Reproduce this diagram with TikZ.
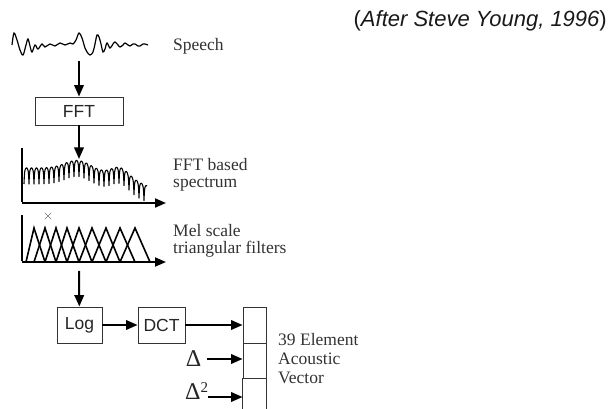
\documentclass[tikz,border=0pt]{standalone}
\usepackage{fontspec}
\setmainfont{Liberation Serif}
\newfontfamily\arialfont{Liberation Sans}
\usetikzlibrary{arrows.meta}
\tikzset{
  flowarrow/.style={line width=2pt, draw=black, -{Triangle[length=11.5pt,width=9.5pt]}},
  axisline/.style={line width=2.2pt, draw=black},
  axisarrow/.style={line width=2pt, draw=black, -{Triangle[length=11pt,width=9pt]}},
  procbox/.style={draw=black!80, line width=0.9pt, inner sep=0pt,
    font=\arialfont\fontsize{17.5}{20}\selectfont, text=black!85},
  cell/.style={draw=black!80, line width=0.9pt, inner sep=0pt, minimum width=23pt},
  lbl/.style={font=\fontsize{17.5}{17.5}\selectfont, text=black!80, align=left,
    anchor=base west, inner sep=0pt},
  deltalbl/.style={font=\fontsize{24}{24}\selectfont, text=black!85, inner sep=0pt},
  filt/.style={line width=1.6pt, draw=black, line join=miter},
  sig/.style={line width=1.2pt, draw=black},
}
\begin{document}
\begin{tikzpicture}[x=1pt,y=-1pt]
\useasboundingbox (0,0) rectangle (614,409);
\fill[white] (0,0) rectangle (614,409);

% title
\node[anchor=base east, inner sep=0pt, font=\arialfont\fontsize{22}{24}\selectfont, text=black!90]
  (title) at (607,27) {({\itshape After Steve Young, 1996})};

% speech waveform
\draw[sig] plot[smooth, tension=0.55] coordinates {
 (12,45) (14,33) (17,40) (20,50) (23,55) (26,45) (28,39) (30,46) (32,52) (35,45)
 (38,49) (42,44) (45,47) (50,44) (55,46) (60,43) (65,45) (70,43) (73,44) (76,40)
 (79,33) (82,38) (85,48) (87,52) (90,55) (93,52) (95,44) (97,35) (99,37) (101,44)
 (103,52) (105,49) (107,43) (110,48) (113,44) (115,42) (118,45) (120,47) (123,45)
 (125,43) (128,45) (130,46) (133,44) (135,44) (138,46) (140,46) (143,44) (145,44) (148,45)};
\node[lbl] (speech) at (173,51) {Speech};

% FFT
\coordinate (sp) at (79,61);
\node[procbox, minimum width=88pt, minimum height=28pt] (fft) at (79,111) {FFT};
\draw[flowarrow] (sp) -- (fft);
\coordinate (spectop) at (79,159);
\draw[flowarrow] (fft) -- (spectop);

% spectrum
\coordinate (sporig) at (22,203);
\coordinate (sptop) at (22,148);
\coordinate (spend) at (166,203);
\draw[axisline] (sptop) -- ([yshift=1.1pt]sporig);
\draw[axisarrow] (sporig) -- (spend);
\draw[sig, line width=1.1pt, line join=round] plot[domain=24:147, samples=493]
  (\x, {168 - 9*exp(-((\x-78)/18)^2) - 9*exp(-((\x-120)/12)^2) + 18*((\x-24)/123)^3
        + 5*(1-abs(sin(36*(\x-24)))) + 11*(1-abs(sin(36*(\x-24))))^4});
\node[lbl] (speclbl) at (173,188) {FFT based\\spectrum};

% mel filters
\coordinate (melorig) at (22,262);
\coordinate (meltop) at (22,215);
\coordinate (melend) at (166,262);
\draw[axisline] (meltop) -- ([yshift=1.1pt]melorig);
\foreach \a/\b/\c in {26/34/45, 34/45/56, 45/56/67, 56/67/79, 67/79/92, 79/92/106,
                      92/106/120, 106/120/135, 120/135/150}
  \draw[filt] (\a,262) -- (\b,228) -- (\c,262);
\draw[axisarrow] (melorig) -- (melend);
\draw[black!55, line width=0.7pt] (45,213) -- (51,219) (45,219) -- (51,213);
\node[lbl] (mellbl) at (173,254) {Mel scale\\triangular filters};

% Log, DCT
\coordinate (melout) at (79,271);
\node[procbox, minimum width=45pt, minimum height=36pt] (log) at (79.5,325) {Log};
\node[procbox, minimum width=47pt, minimum height=36pt] (dct) at (161.5,325) {DCT};
\draw[flowarrow] (melout) -- (log);
\draw[flowarrow] (log) -- (dct);

% acoustic vector
\node[cell, minimum height=36pt] (v1) at (254.5,325) {};
\node[cell, minimum height=35pt] (v2) at (254.5,360.5) {};
\draw[draw=black!80, line width=0.9pt] (v2.south west) -- ++(0,40) (v2.south east) -- ++(0,40);
\draw[flowarrow] (dct) -- (v1);

\node[deltalbl, anchor=base] (d1) at (193.5,366) {Δ};
\coordinate (d1tail) at (207,359);
\draw[flowarrow] (d1tail) -- (d1tail -| v2.west);
\node[deltalbl, anchor=base west] (d2) at (185,399) {Δ\raisebox{7pt}{\fontsize{15}{15}\selectfont 2}};
\coordinate (d2tail) at (208,397);
\draw[flowarrow] (d2tail) -- (d2tail -| v2.west);

\node[lbl] (veclbl) at (278,383) {39 Element\\[1.5pt]Acoustic\\[1.5pt]Vector};
\end{tikzpicture}
\end{document}
